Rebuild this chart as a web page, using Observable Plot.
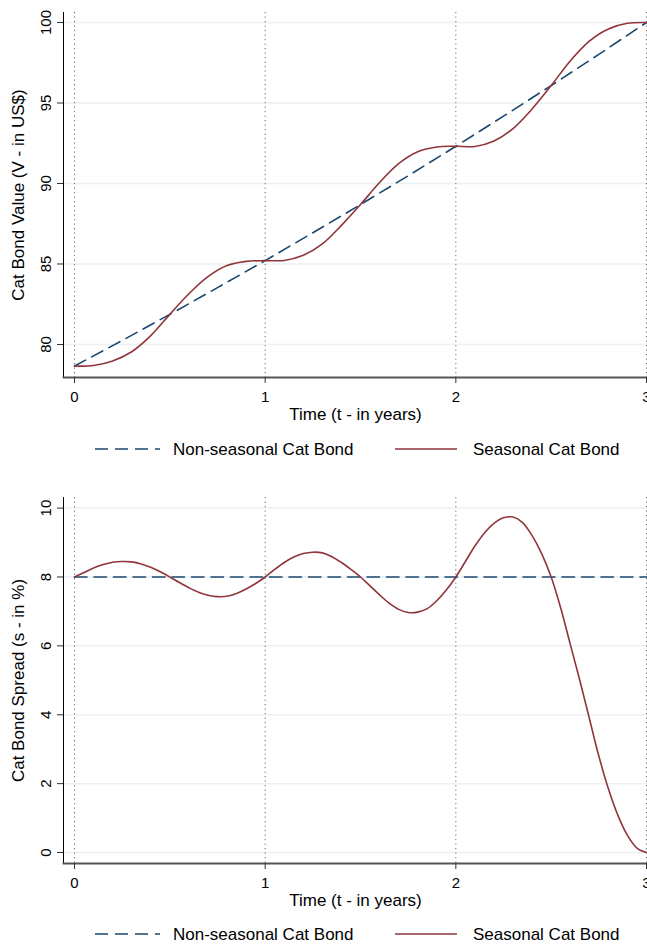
<!DOCTYPE html>
<html>
<head>
<meta charset="utf-8">
<script src="https://cdn.jsdelivr.net/npm/d3@7"></script>
<script src="https://cdn.jsdelivr.net/npm/@observablehq/plot@0.6"></script>
<style>
  html, body { margin: 0; padding: 0; background: #fff; }
  #wrap { position: relative; width: 647px; height: 944px; overflow: hidden; background: #fff;
          font-family: "Liberation Sans", Arial, Helvetica, sans-serif; }
  .panel { position: absolute; left: 0; }
  .legend { position: absolute; left: 0; overflow: visible; }
  .legend text { font-size: 17px; fill: #000; font-family: "Liberation Sans", Arial, Helvetica, sans-serif; }
</style>
</head>
<body>
<div id="wrap"></div>
<script>
// ---------- data ----------
const seriesNames = ["Non-seasonal Cat Bond", "Seasonal Cat Bond"];
const seriesColors = ["#1a476f", "#90353b"];

const xTicks = [0, 1, 2, 3];
const valueTicks = [80, 85, 90, 95, 100];
const spreadTicks = [0, 2, 4, 6, 8, 10];

// Panel 1: Cat Bond Value
const valueTimeNS = [0, 0.25, 0.5, 0.75, 1, 1.25, 1.5, 1.75, 2, 2.25, 2.5, 2.75, 3];
const valueNS = [78.66, 80.25, 81.87, 83.53, 85.21, 86.94, 88.69, 90.48, 92.31, 94.18, 96.08, 98.02, 100.00];

const valueTimeS = [0, 0.1, 0.2, 0.3, 0.4, 0.5, 0.6, 0.7, 0.8, 0.9, 1.0, 1.1, 1.2, 1.3, 1.4, 1.5,
                    1.6, 1.7, 1.8, 1.9, 2.0, 2.1, 2.2, 2.3, 2.4, 2.5, 2.6, 2.7, 2.8, 2.9, 3.0];
const valueS = [78.66, 78.70, 78.98, 79.55, 80.55, 81.87, 83.15, 84.21, 84.90, 85.16, 85.21,
                85.22, 85.54, 86.25, 87.40, 88.69, 90.06, 91.23, 91.97, 92.27, 92.31,
                92.30, 92.64, 93.41, 94.63, 96.08, 97.61, 98.84, 99.60, 99.95, 100.00];

// Panel 2: Cat Bond Spread
const spreadTimeNS = [0, 3];
const spreadNS = [8, 8];

const spreadTimeS = [0, 0.05, 0.1, 0.15, 0.2, 0.25, 0.3, 0.35, 0.4, 0.45, 0.5, 0.55, 0.6, 0.65, 0.7, 0.75,
                     0.8, 0.85, 0.9, 0.95, 1.0, 1.05, 1.1, 1.15, 1.2, 1.25, 1.3, 1.35, 1.4, 1.45, 1.5,
                     1.55, 1.6, 1.65, 1.7, 1.75, 1.8, 1.85, 1.9, 1.95, 2.0, 2.05, 2.1, 2.15, 2.2, 2.25,
                     2.3, 2.35, 2.4, 2.45, 2.5, 2.55, 2.6, 2.65, 2.7, 2.75, 2.8, 2.85, 2.9, 2.95, 3.0];
const spreadS = [8.00, 8.13, 8.26, 8.36, 8.43, 8.45, 8.44, 8.38, 8.28, 8.15, 8.00, 7.84, 7.69, 7.56, 7.47, 7.43,
                 7.44, 7.52, 7.65, 7.81, 8.00, 8.22, 8.42, 8.58, 8.68, 8.72, 8.70, 8.59, 8.42, 8.22, 8.00,
                 7.74, 7.48, 7.24, 7.06, 6.97, 6.98, 7.08, 7.31, 7.62, 8.00, 8.45, 8.90, 9.28, 9.56, 9.72,
                 9.74, 9.58, 9.20, 8.68, 8.00, 7.10, 6.05, 5.00, 3.90, 2.80, 1.85, 1.08, 0.50, 0.13, 0.00];

// ---------- helpers ----------
const zip = (xs, ys) => xs.map((x, i) => ({ t: x, v: ys[i] }));
const FONT = '"Liberation Sans", Arial, Helvetica, sans-serif';

function panel({ yDomain, yTicks, yTitle, nsData, sData, marginTop, marginBottom }) {
  return Plot.plot({
    width: 647,
    height: 430,
    marginLeft: 63,
    marginRight: 0,
    marginTop,
    marginBottom,
    style: { fontFamily: FONT, fontSize: "15px", color: "#000", background: "transparent", overflow: "visible" },
    x: { domain: [-0.0577, 3.0052] },
    y: { domain: yDomain },
    marks: [
      Plot.gridY(yTicks, { stroke: "#eaf2f3", strokeOpacity: 1, strokeWidth: 1.5 }),
      Plot.ruleX(xTicks, { stroke: "#6a6a6a", strokeWidth: 1, strokeDasharray: "1.2,3.3" }),
      Plot.frame({ anchor: "left", stroke: "#000", strokeWidth: 1 }),
      Plot.frame({ anchor: "bottom", stroke: "#555", strokeWidth: 1.8 }),
      Plot.axisX(xTicks, { tickSize: 6, tickPadding: 8, label: null, fontSize: 15, stroke: "#333", tickFormat: d => String(d) }),
      Plot.axisY(yTicks, { tickSize: 6, tickPadding: 7, tickRotate: -90, label: null, fontSize: 15, stroke: "#333", tickFormat: d => String(d) }),
      Plot.text(["Time (t - in years)"], { frameAnchor: "bottom", dy: 37, lineAnchor: "middle", textAnchor: "middle", fontSize: 17, fill: "#000" }),
      Plot.text([yTitle], { frameAnchor: "left", dx: -45, rotate: -90, lineAnchor: "middle", textAnchor: "middle", fontSize: 17, fill: "#000" }),
      Plot.line(nsData, { x: "t", y: "v", stroke: seriesColors[0], strokeWidth: 1.6, strokeDasharray: "12.5,7" }),
      Plot.line(sData, { x: "t", y: "v", stroke: seriesColors[1], strokeWidth: 1.6, curve: "catmull-rom" })
    ]
  });
}

function legend(top) {
  const ns = "http://www.w3.org/2000/svg";
  const svg = document.createElementNS(ns, "svg");
  svg.setAttribute("class", "legend");
  svg.setAttribute("width", 647);
  svg.setAttribute("height", 20);
  svg.style.top = top + "px";
  const items = [
    { x1: 95, x2: 160, tx: 173, dash: "13,7" },
    { x1: 395, x2: 457, tx: 473, dash: null }
  ];
  items.forEach((it, i) => {
    const ln = document.createElementNS(ns, "line");
    ln.setAttribute("x1", it.x1); ln.setAttribute("x2", it.x2);
    ln.setAttribute("y1", 10); ln.setAttribute("y2", 10);
    ln.setAttribute("stroke", seriesColors[i]);
    ln.setAttribute("stroke-width", 1.6);
    if (it.dash) ln.setAttribute("stroke-dasharray", it.dash);
    svg.appendChild(ln);
    const tx = document.createElementNS(ns, "text");
    tx.setAttribute("x", it.tx); tx.setAttribute("y", 10);
    tx.setAttribute("dy", "0.35em");
    tx.textContent = seriesNames[i];
    svg.appendChild(tx);
  });
  return svg;
}

const wrap = document.getElementById("wrap");

const p1 = panel({
  yDomain: [77.95, 100.62],
  yTicks: valueTicks,
  yTitle: "Cat Bond Value (V - in US$)",
  nsData: zip(valueTimeNS, valueNS),
  sData: zip(valueTimeS, valueS),
  marginTop: 12,
  marginBottom: 53
});
p1.classList.add("panel");
p1.style.top = "0px";
wrap.appendChild(p1);
wrap.appendChild(legend(439));

const p2 = panel({
  yDomain: [-0.319, 10.308],
  yTicks: spreadTicks,
  yTitle: "Cat Bond Spread (s - in %)",
  nsData: zip(spreadTimeNS, spreadNS),
  sData: zip(spreadTimeS, spreadS),
  marginTop: 17,
  marginBottom: 47
});
p2.classList.add("panel");
p2.style.top = "480px";
wrap.appendChild(p2);
wrap.appendChild(legend(924));
</script>
</body>
</html>
